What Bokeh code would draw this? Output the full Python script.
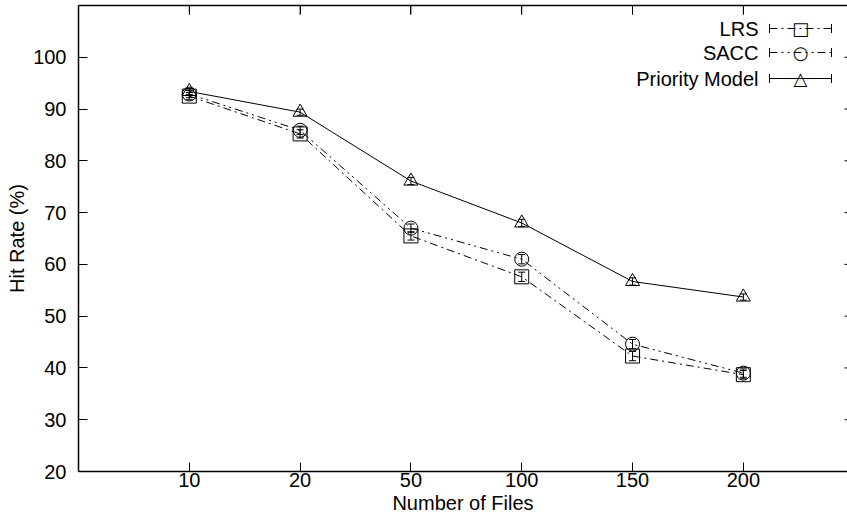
import math
from bokeh.plotting import figure
from bokeh.models import (Range1d, FixedTicker, LinearAxis, Whisker, TeeHead,
                          ColumnDataSource, Label, Arrow)
from bokeh.embed import file_html
from bokeh.resources import INLINE

# ---- data ----
files = ["10", "20", "50", "100", "150", "200"]
lrs = [92.5, 85.2, 65.5, 57.6, 42.3, 38.7]
lrs_err = [0.7, 0.8, 0.8, 0.9, 0.9, 0.8]
sacc = [92.9, 85.9, 67.0, 61.0, 44.6, 39.0]
sacc_err = [0.7, 0.8, 0.8, 0.9, 0.9, 0.8]
prio = [93.4, 89.4, 76.1, 68.0, 56.7, 53.7]
prio_err = [0.6, 0.6, 0.7, 0.7, 0.7, 0.6]
y_ticks = [20, 30, 40, 50, 60, 70, 80, 90, 100]

x = list(range(1, len(files) + 1))
FONT = "Liberation Sans"
FS = "20px"

p = figure(width=847, height=522, x_range=Range1d(0, 6.94), y_range=Range1d(20, 110),
           output_backend="svg", toolbar_location=None, min_border=0,
           min_border_left=78, min_border_right=0, min_border_top=5, min_border_bottom=51)
p.outline_line_color = None
p.xgrid.grid_line_color = None
p.ygrid.grid_line_color = None
p.background_fill_color = "white"

p.xaxis.ticker = FixedTicker(ticks=x)
p.xaxis.major_label_overrides = {i: f for i, f in zip(x, files)}
p.xaxis.axis_label = "Number of Files"
p.yaxis.ticker = FixedTicker(ticks=y_ticks)
p.yaxis.axis_label = "Hit Rate (%)"

# top border line (no labels)
top = LinearAxis(ticker=FixedTicker(ticks=[], minor_ticks=x))
p.add_layout(top, "above")

for ax in p.axis:
    ax.major_tick_in = 9
    ax.major_tick_out = 0
    ax.minor_tick_line_color = None
    ax.axis_line_width = 1.5
    ax.axis_line_color = "black"
    ax.major_tick_line_color = "black"
    ax.major_label_text_font = FONT
    ax.major_label_text_color = "black"
    ax.major_label_text_font_size = FS
    ax.axis_label_text_font = FONT
    ax.axis_label_text_font_style = "normal"
    ax.axis_label_text_font_size = FS
    ax.axis_label_text_color = "black"
top.minor_tick_line_color = "black"
top.minor_tick_in = 9
top.minor_tick_out = 0
top.major_label_standoff = 0
top.axis_label_standoff = 0

p.xaxis.major_label_standoff = 1
p.xaxis.axis_label_standoff = 2
p.yaxis.major_label_standoff = 12
p.yaxis.axis_label_standoff = 2

# mirrored inward tick marks on the top and right borders (half clipped by the frame)
p.scatter(x=x, y=[p.y_range.end] * len(x), marker="dash", angle=math.pi / 2, size=18,
          line_color="black", line_width=1)
p.scatter(x=[p.x_range.end] * len(y_ticks), y=y_ticks, marker="dash", size=6,
          line_color="black", line_width=1)

series = [
    (lrs, lrs_err, "square", "8 4 2 4", "LRS"),
    (sacc, sacc_err, "circle", "8 4 2 4 2 4", "SACC"),
    (prio, prio_err, "triangle", "solid", "Priority Model"),
]

for vals, errs, marker, dash, name in series:
    src = ColumnDataSource(dict(x=x, y=vals,
                                lower=[v - e for v, e in zip(vals, errs)],
                                upper=[v + e for v, e in zip(vals, errs)]))
    p.line("x", "y", source=src, line_color="black", line_width=1, line_dash=dash)
    p.scatter("x", "y", source=src, marker=marker, size=14, fill_color=None,
              line_color="black", line_width=1)
    w = Whisker(base="x", lower="lower", upper="upper", source=src, dimension="height",
                line_color="black", line_width=1,
                upper_head=TeeHead(size=7, line_color="black", line_width=1),
                lower_head=TeeHead(size=7, line_color="black", line_width=1))
    p.add_layout(w)

# ---- legend (screen units relative to frame, gnuplot style: label then sample) ----
leg_y = [443, 419, 393]
glyph_chars = ["\u25a1", "\u25cb", "\u25b3"]
for (vals, errs, marker, dash, name), ly, ch in zip(series, leg_y, glyph_chars):
    p.add_layout(Label(x=680, y=ly, x_units="screen", y_units="screen", text=name,
                       text_align="right", text_baseline="middle",
                       text_font=FONT, text_font_size=FS, text_color="black"))
    p.add_layout(Arrow(x_start=691, y_start=ly, x_end=753, y_end=ly,
                       start_units="screen", end_units="screen",
                       line_color="black", line_width=1, line_dash=dash,
                       start=TeeHead(size=9, line_color="black", line_width=1),
                       end=TeeHead(size=9, line_color="black", line_width=1)))
    p.add_layout(Label(x=722, y=ly, x_units="screen", y_units="screen", text=ch,
                       text_align="center", text_baseline="middle",
                       text_font="DejaVu Sans", text_font_size="18px", text_color="black"))

open("out.html", "w").write(file_html(p, INLINE))
